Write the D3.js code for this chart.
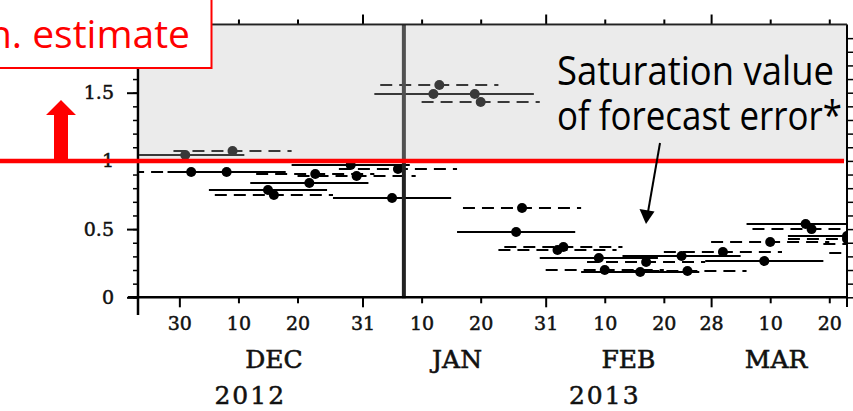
<!DOCTYPE html>
<html><head><meta charset="utf-8">
<script src="https://cdn.jsdelivr.net/npm/d3@7"></script>
<style>body{margin:0;background:#fff}svg{display:block}</style>
</head><body>
<svg id="c" width="853" height="411"></svg>
<script>
// ---- data ----
const centerDates = ["2012-12-01","2012-12-09","2012-12-02","2012-12-08","2012-12-23","2012-12-29","2012-12-30","2013-01-06","2012-12-22","2012-12-15","2012-12-16","2013-01-05",
  "2013-01-13","2013-01-12","2013-01-19","2013-01-20",
  "2013-01-27","2013-01-26","2013-02-03","2013-02-02","2013-02-09","2013-02-17","2013-02-10","2013-02-16","2013-02-24","2013-02-23","2013-03-02","2013-03-09","2013-03-10","2013-03-16","2013-03-17","2013-03-23","2013-03-23","2013-03-29","2013-03-30"];
const errorValues = [1.043,1.073,0.919,0.919,0.904,0.97,0.889,0.94,0.838,0.787,0.75,0.728,
  1.556,1.49,1.49,1.432,
  0.655,0.479,0.369,0.347,0.288,0.259,0.200,0.186,0.193,0.303,0.332,0.266,0.405,0.537,0.5,0.449,0.427,0.39,0.325];
const lineStyles = ["solid","dashed","dashed","solid","dashed","solid","dashed","dashed","solid","solid","dashed","solid",
  "dashed","solid","solid","dashed",
  "dashed","solid","dashed","dashed","solid","dashed","dashed","solid","dashed","solid","dashed","solid","dashed","solid","dashed","solid","dashed","dashed","dashed"];
const halfWindowDays = 10;
const xTickDates = ["2012-11-30","2012-12-10","2012-12-20","2012-12-31","2013-01-10","2013-01-20","2013-01-31","2013-02-10","2013-02-20","2013-02-28","2013-03-10","2013-03-20"];
const xTickLabels = ["30","10","20","31","10","20","31","10","20","28","10","20"];
const monthEndTicks = ["2012-11-30","2012-12-31","2013-01-31","2013-02-28"];
const monthLabels = ["DEC","JAN","FEB","MAR"];
const monthLabelDates = ["2012-12-16","2013-01-16","2013-02-14","2013-03-11"];
const yearLabels = ["2012","2013"];
const yearLabelDates = ["2012-12-12","2013-02-10"];
const yMajorTicks = [0,0.5,1,1.5];
const yMajorLabels = ["0","0.5","1","1.5"];
const yMinorTicks = d3.range(0,20).map(i=>i/10);
const saturationValue = 1;
const markerDate = "2013-01-07";
const xDomain = ["2012-11-23","2013-03-23"];
const yDomain = [0,2];

// ---- layout ----
const parse = d3.utcParse("%Y-%m-%d");
const L=138, R=847, T=24.5, B=297.3;
const x = d3.scaleUtc().domain(xDomain.map(parse)).range([L,R]);
const y = d3.scaleLinear().domain(yDomain).range([B,T]);
const svg = d3.select("#c");
svg.append("rect").attr("width",853).attr("height",411).attr("fill","#fff");
svg.append("defs").append("clipPath").attr("id","clip").append("rect")
  .attr("x",L).attr("y",T).attr("width",R-L).attr("height",B-T);

const segs = centerDates.map((d,i)=>({c:parse(d),v:errorValues[i],s:lineStyles[i]}));
const g = svg.append("g").attr("clip-path","url(#clip)");
g.selectAll("line.seg").data(segs).join("line").attr("class","seg")
  .attr("x1",d=>x(d3.utcDay.offset(d.c,-halfWindowDays)))
  .attr("x2",d=>x(d3.utcDay.offset(d.c,halfWindowDays)))
  .attr("y1",d=>y(d.v)).attr("y2",d=>y(d.v))
  .attr("stroke","#000").attr("stroke-width",2)
  .attr("stroke-dasharray",d=>d.s==="dashed"?"12,7":null);
g.selectAll("circle").data(segs).join("circle")
  .attr("cx",d=>x(d.c)).attr("cy",d=>y(d.v)).attr("r",5).attr("fill","#000");

// marker vertical line
svg.append("line").attr("x1",x(parse(markerDate))).attr("x2",x(parse(markerDate)))
  .attr("y1",T).attr("y2",B+1).attr("stroke","#222").attr("stroke-width",4);

// axes
const fontTick = "'DejaVu Serif', serif";
const xt = xTickDates.map(parse);
const isMonthEnd = d => monthEndTicks.includes(d3.utcFormat("%Y-%m-%d")(d));
const bottomAxis = svg.append("g").attr("transform",`translate(0,${B})`)
  .call(d3.axisBottom(x).tickValues(xt).tickFormat((d,i)=>xTickLabels[i]).tickSizeOuter(0));
bottomAxis.select(".domain").remove();
bottomAxis.selectAll(".tick line").attr("y2",d=>isMonthEnd(d)?10:6).attr("stroke-width",2);
bottomAxis.selectAll(".tick text").attr("dy",null).attr("y",33).attr("font-size",19)
  .attr("font-family",fontTick).attr("fill","#111").attr("stroke","#111").attr("stroke-width",0.5);
const topAxis = svg.append("g").attr("transform",`translate(0,${T})`)
  .call(d3.axisTop(x).tickValues(xt).tickFormat("").tickSizeOuter(0));
topAxis.select(".domain").remove();
topAxis.selectAll(".tick line").attr("y2",d=>isMonthEnd(d)?-10:-5).attr("stroke-width",2);

const leftMinor = svg.append("g").attr("transform",`translate(${L},0)`)
  .call(d3.axisLeft(y).tickValues(yMinorTicks).tickFormat("").tickSize(5).tickSizeOuter(0));
leftMinor.select(".domain").remove();
leftMinor.selectAll(".tick line").attr("stroke-width",1.5);
const leftMajor = svg.append("g").attr("transform",`translate(${L},0)`)
  .call(d3.axisLeft(y).tickValues(yMajorTicks).tickFormat((d,i)=>yMajorLabels[i]).tickSize(11).tickPadding(13).tickSizeOuter(0));
leftMajor.select(".domain").remove();
leftMajor.selectAll(".tick line").attr("stroke-width",2);
leftMajor.selectAll(".tick text").attr("font-size",19).attr("font-family",fontTick).attr("fill","#111")
  .attr("stroke","#111").attr("stroke-width",0.5);
const rightMinor = svg.append("g").attr("transform",`translate(${R},0)`)
  .call(d3.axisRight(y).tickValues(yMinorTicks).tickFormat("").tickSize(6).tickSizeOuter(0));
rightMinor.select(".domain").remove();
rightMinor.selectAll(".tick line").attr("stroke-width",1.5);

// frame
svg.append("line").attr("x1",L).attr("x2",L).attr("y1",T).attr("y2",315).attr("stroke","#000").attr("stroke-width",2.5);
svg.append("line").attr("x1",R).attr("x2",R).attr("y1",T).attr("y2",307).attr("stroke","#000").attr("stroke-width",2);
svg.append("line").attr("x1",L).attr("x2",R).attr("y1",T).attr("y2",T).attr("stroke","#222").attr("stroke-width",2);
svg.append("line").attr("x1",L-10).attr("x2",R).attr("y1",B).attr("y2",B).attr("stroke","#000").attr("stroke-width",2.5);

// month / year labels
svg.selectAll("text.month").data(monthLabels).join("text").attr("class","month")
  .attr("x",(d,i)=>x(parse(monthLabelDates[i]))).attr("y",368).attr("text-anchor","middle")
  .attr("font-family",fontTick).attr("font-size",25).attr("fill","#111")
  .attr("stroke","#111").attr("stroke-width",0.6).text(d=>d);
svg.selectAll("text.year").data(yearLabels).join("text").attr("class","year")
  .attr("x",(d,i)=>x(parse(yearLabelDates[i]))).attr("y",404).attr("text-anchor","middle")
  .attr("font-family",fontTick).attr("font-size",25).attr("letter-spacing",2).attr("fill","#111")
  .attr("stroke","#111").attr("stroke-width",0.5).text(d=>d);

// grey overlay above saturation
svg.append("rect").attr("x",L+1).attr("y",T+1).attr("width",R-L-2).attr("height",y(saturationValue)-T-1)
  .attr("fill","rgb(190,190,190)").attr("fill-opacity",0.3);

// red saturation line
svg.append("line").attr("x1",0).attr("x2",R-3).attr("y1",y(saturationValue)).attr("y2",y(saturationValue))
  .attr("stroke","#ff0000").attr("stroke-width",4.5);
// red arrow
const ry = y(saturationValue);
svg.append("path").attr("d",`M54,${ry} L54,115 L46,115 L61,100 L76,115 L68,115 L68,${ry} Z`).attr("fill","#ff0000");

// annotation
const ann = svg.append("text").attr("font-family","'Open Sans', sans-serif").attr("font-size",41).attr("fill","#000");
ann.append("tspan").attr("x",557).attr("y",85).attr("textLength",277).attr("lengthAdjust","spacingAndGlyphs").text("Saturation value");
ann.append("tspan").attr("x",557).attr("y",130).attr("textLength",285).attr("lengthAdjust","spacingAndGlyphs").text("of forecast error*");
svg.append("line").attr("x1",660).attr("y1",143).attr("x2",648).attr("y2",212).attr("stroke","#000").attr("stroke-width",2);
svg.append("path").attr("d","M646,224 L639.5,209 L654.5,211.5 Z").attr("fill","#000");

// red box
svg.append("rect").attr("x",-5).attr("y",-5).attr("width",216.5).attr("height",73)
  .attr("fill","#fff").attr("stroke","#ff0000").attr("stroke-width",2);
svg.append("text").attr("x",190).attr("y",48).attr("text-anchor","end")
  .attr("font-family","'Open Sans', sans-serif").attr("font-size",39).attr("fill","#ff0000").text("Min. estimate");
</script>
</body></html>
